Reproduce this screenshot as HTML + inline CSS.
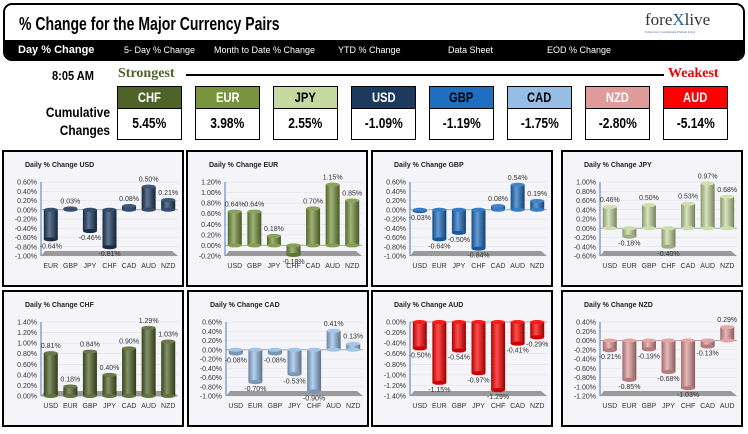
<!DOCTYPE html>
<html><head><meta charset="utf-8"><style>
body{margin:0;width:748px;height:434px;background:#fff;position:relative;overflow:hidden;font-family:"Liberation Sans",sans-serif}
.abs{position:absolute}
.nar{font-family:"Liberation Sans Narrow","Liberation Sans",sans-serif;font-weight:bold}
.sq{display:inline-block;transform:scaleX(0.8);}
.box{position:absolute;width:63px;border:1px solid #000;}
.box .h{height:21px;line-height:21px;text-align:center;font-size:14px;border-bottom:1px solid #000}
.box .v{height:30px;line-height:30px;text-align:center;font-size:15px;background:#fff;color:#000}
.nav{position:absolute;top:42px;font-size:9px;color:#fff}
</style></head><body>
<div class="abs" style="left:3px;top:3px;width:738px;height:54px;border:2px solid #000;border-radius:9px;overflow:hidden;background:#fff">
 <div class="abs nar" style="left:14px;top:9px;font-size:18px;transform:scaleX(0.78);transform-origin:0 0;white-space:nowrap">% Change for the Major Currency Pairs</div>
 <div class="abs" style="left:640px;top:5px;font-family:'Liberation Serif',serif;font-size:17px;color:#333">fore<span style="color:#1f5fa0">X</span>live<div style="font-size:3px;color:#3060a0">Tomorrow's Conventional Wisdom Today</div></div>
 <div class="abs" style="left:0;top:35px;width:738px;height:19px;background:#000"></div>
</div>
<div class="nav nar" style="left:18px;top:44px;font-size:11px">Day % Change</div>
<div class="nav" style="left:124px;top:45px">5- Day % Change</div>
<div class="nav" style="left:214px;top:45px">Month to Date % Change</div>
<div class="nav" style="left:338px;top:45px">YTD % Change</div>
<div class="nav" style="left:448px;top:45px">Data Sheet</div>
<div class="nav" style="left:547px;top:45px">EOD % Change</div>

<div class="abs nar" style="left:52px;top:68px;font-size:13px;transform:scaleX(0.85);transform-origin:0 0">8:05 AM</div>
<div class="abs" style="left:118px;top:66px;font-size:14px;font-weight:bold;color:#4f6228;font-family:'Liberation Serif',serif">Strongest</div>
<div class="abs" style="left:186px;top:74px;width:478px;height:2px;background:#000"></div>
<div class="abs" style="left:668px;top:66px;font-size:14px;font-weight:bold;color:#e00;font-family:'Liberation Serif',serif">Weakest</div>
<div class="abs nar" style="left:30px;top:103px;width:80px;text-align:right;font-size:14px;line-height:18px;transform:scaleX(0.85);transform-origin:100% 0">Cumulative<br>Changes</div>
<div id="boxes"></div>
<svg id="charts" class="abs" style="left:0;top:0" width="748" height="434"></svg>
<script>
const rankCurrencies=["CHF","EUR","JPY","USD","GBP","CAD","NZD","AUD"];
const rankValues=["5.45%","3.98%","2.55%","-1.09%","-1.19%","-1.75%","-2.80%","-5.14%"];
const colorOf={USD:"#1c3a5e",EUR:"#77933c",GBP:"#1f6ec2",JPY:"#c6d9a0",CHF:"#4f6228",CAD:"#96bde6",AUD:"#ff0000",NZD:"#e09a9a"};
const textOf={USD:"#fff",EUR:"#fff",GBP:"#000",JPY:"#000",CHF:"#fff",CAD:"#000",AUD:"#fff",NZD:"#fff"};
const bx=document.getElementById('boxes');
rankCurrencies.forEach((c,i)=>{
 const d=document.createElement('div');d.className='box nar';
 
 
 d.style.left=(117+i*78)+'px';d.style.top='86px';
 d.innerHTML='<div class="h" style="background:'+colorOf[c]+';color:'+textOf[c]+'"><span class="sq">'+c+'</span></div><div class="v"><span class="sq">'+rankValues[i]+'</span></div>';
 bx.appendChild(d);
});

const usdCats=["EUR","GBP","JPY","CHF","CAD","AUD","NZD"];
const usdVals=[-0.64,0.03,-0.46,-0.81,0.08,0.50,0.21];
const usdTicks=[-1.0,-0.8,-0.6,-0.4,-0.2,0,0.2,0.4,0.6];
const eurCats=["USD","GBP","JPY","CHF","CAD","AUD","NZD"];
const eurVals=[0.64,0.64,0.18,-0.18,0.70,1.15,0.85];
const eurTicks=[-0.2,0,0.2,0.4,0.6,0.8,1.0,1.2];
const gbpCats=["USD","EUR","JPY","CHF","CAD","AUD","NZD"];
const gbpVals=[-0.03,-0.64,-0.50,-0.84,0.08,0.54,0.19];
const gbpTicks=[-1.0,-0.8,-0.6,-0.4,-0.2,0,0.2,0.4,0.6];
const jpyCats=["USD","EUR","GBP","CHF","CAD","AUD","NZD"];
const jpyVals=[0.46,-0.18,0.50,-0.40,0.53,0.97,0.68];
const jpyTicks=[-0.6,-0.4,-0.2,0,0.2,0.4,0.6,0.8,1.0];
const chfCats=["USD","EUR","GBP","JPY","CAD","AUD","NZD"];
const chfVals=[0.81,0.18,0.84,0.40,0.90,1.29,1.03];
const chfTicks=[0,0.2,0.4,0.6,0.8,1.0,1.2,1.4];
const cadCats=["USD","EUR","GBP","JPY","CHF","AUD","NZD"];
const cadVals=[-0.08,-0.70,-0.08,-0.53,-0.90,0.41,0.13];
const cadTicks=[-1.0,-0.8,-0.6,-0.4,-0.2,0,0.2,0.4,0.6];
const audCats=["USD","EUR","GBP","JPY","CHF","CAD","NZD"];
const audVals=[-0.50,-1.15,-0.54,-0.97,-1.29,-0.41,-0.29];
const audTicks=[-1.4,-1.2,-1.0,-0.8,-0.6,-0.4,-0.2,0];
const nzdCats=["USD","EUR","GBP","JPY","CHF","CAD","AUD"];
const nzdVals=[-0.21,-0.85,-0.19,-0.68,-1.03,-0.13,0.29];
const nzdTicks=[-1.2,-1.0,-0.8,-0.6,-0.4,-0.2,0,0.2,0.4];

const panels=[
 ["USD",usdCats,usdVals,usdTicks,3,151],["EUR",eurCats,eurVals,eurTicks,187,151],
 ["GBP",gbpCats,gbpVals,gbpTicks,372,151],["JPY",jpyCats,jpyVals,jpyTicks,562,151],
 ["CHF",chfCats,chfVals,chfTicks,3,291],["CAD",cadCats,cadVals,cadTicks,188,291],
 ["AUD",audCats,audVals,audTicks,372,291],["NZD",nzdCats,nzdVals,nzdTicks,562,291]];
const NS="http://www.w3.org/2000/svg";
const svg=document.getElementById('charts');
function mk(tag,attrs,parent,txt){const e=document.createElementNS(NS,tag);for(const k in attrs)e.setAttribute(k,attrs[k]);if(txt!==undefined)e.textContent=txt;(parent||svg).appendChild(e);return e;}
const defs=mk('defs',{});
function shade(hex,f){let n=parseInt(hex.slice(1),16);let r=n>>16,g=(n>>8)&255,b=n&255;
 const m=v=>Math.max(0,Math.min(255,Math.round(f>0?v+(255-v)*f:v*(1+f))));return 'rgb('+m(r)+','+m(g)+','+m(b)+')';}
const fmt=v=>v.toFixed(2)+'%';
panels.forEach(p=>{
 const [cur,cats,vals,ticks,L,T]=p;const col=colorOf[cur];
 const gid='g'+cur;
 const lg=mk('linearGradient',{id:gid,x1:0,x2:1,y1:0,y2:0},defs);
 mk('stop',{offset:'0',"stop-color":shade(col,-0.3)},lg);
 mk('stop',{offset:'0.4',"stop-color":shade(col,0.3)},lg);
 mk('stop',{offset:'1',"stop-color":shade(col,-0.4)},lg);
 const g=mk('g',{});
 
 
 const bg=mk('rect',{x:L,y:T,width:180,height:135,fill:'#f5f4f8',stroke:'#000','stroke-width':2},g);
 
 
 const t=mk('text',{x:L+22,y:T+16,'font-size':7,'font-weight':'bold',fill:'#222'},g,'Daily % Change '+cur);
 
 
 const tmin=ticks[0],tmax=ticks[ticks.length-1];
 const top=T+31,bot=T+105,ax=L+38,right=L+175;
 const y=v=>top+(tmax-v)/(tmax-tmin)*(bot-top);
 ticks.forEach(v=>{
  mk('line',{x1:ax,x2:right,y1:y(v),y2:y(v),stroke:v===0?'#aaa':'#e2e2e6','stroke-width':v===0?1:0.6},g);
  const tl=mk('text',{x:ax-4,y:y(v)+2.5,'font-size':7,'text-anchor':'end',fill:'#333'},g,fmt(v));
  
  
 });
 mk('line',{x1:ax,x2:ax,y1:top,y2:bot,stroke:'#4a7ab8','stroke-width':1},g);
 mk('polygon',{points:[ax,bot,right,bot,right-6,bot-5,ax+4,bot-5].join(' '),fill:'#9a9a9a'},g);
 const step=(right-ax)/cats.length;
 cats.forEach((c,i)=>{
  const cx=ax+step*(i+0.5),v=vals[i],y0=y(0),yv=y(v),w=14;
  const yt=Math.min(y0,yv),h=Math.max(1.5,Math.abs(yv-y0));
  const b=mk('rect',{x:cx-w/2,y:yt,width:w,height:h,fill:'url(#'+gid+')'},g);
  
  
  mk('ellipse',{cx:cx,cy:yv,rx:w/2,ry:2,fill:shade(col,v>=0?0.15:-0.2)},g);
  mk('ellipse',{cx:cx,cy:y0,rx:w/2,ry:2,fill:shade(col,0.1)},g);
  const ly=v>=0?yv-5:yv+9;
  const dl=mk('text',{x:cx,y:ly,'font-size':7,'text-anchor':'middle',fill:'#333'},g,fmt(v));
  
  
  const cl=mk('text',{x:cx,y:T+117,'font-size':7,'text-anchor':'middle',fill:'#333'},g,c);
  
  
 });
});
</script>
</body></html>
